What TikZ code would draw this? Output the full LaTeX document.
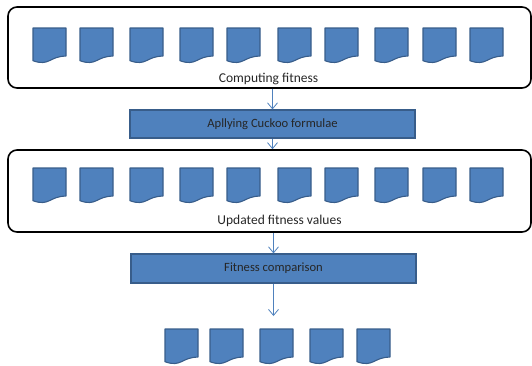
\documentclass[tikz,border=0pt]{standalone}
\usepackage{fontspec}
\setmainfont{Carlito}
\usetikzlibrary{arrows.meta}
\definecolor{docblue}{HTML}{4F81BD}
\definecolor{docedge}{HTML}{385D8A}
\tikzset{
  bigbox/.style={draw=black, line width=1.6pt, rounded corners=9pt, inner sep=0pt},
  procbox/.style={draw=docedge, line width=1.2pt, fill=docblue, inner sep=0pt, text=black!85, font=\fontsize{12.6}{14}\selectfont},
  boxlabel/.style={text=black!85, font=\fontsize{13.5}{15}\selectfont},
  flow/.style={draw=docblue, line width=0.8pt, -{Straight Barb[length=6pt,width=10pt]}},
  sheet/.style={draw=docedge, line width=1.1pt, fill=docblue, line join=round}
}
% one document sheet: left x, top y
\newcommand{\docsheet}[2]{%
  \draw[sheet] (#1,#2) -- ({#1+33},#2) -- ({#1+33},{#2+28.1})
    .. controls ({#1+16.5},{#2+28.1}) and ({#1+16.5},{#2+38.7}) .. (#1,{#2+32.7}) -- cycle;}
\begin{document}
\begin{tikzpicture}[x=1pt, y=-1pt]
        \useasboundingbox (0,0) rectangle (532,365);
        \node[bigbox, minimum width=523, minimum height=81] (topbox) at (269.5,47.5) {};
        \node[procbox, minimum width=285, minimum height=28] (apply) at (272.5,124) {Apllying Cuckoo formulae};
        \node[bigbox, minimum width=523, minimum height=82] (midbox) at (269.5,191) {};
        \node[procbox, minimum width=285, minimum height=29] (compare) at (273.5,268.5) {Fitness comparison};
        \coordinate (result) at (273.5,316);
        \node[boxlabel] (toplabel) at (268.5,79) {Computing fitness};
        \node[boxlabel] (midlabel) at (279.5,221) {Updated fitness values};
        % sheets
        \foreach \x in {33,80,130,180,227,278,325,375,423,470} {
          \docsheet{\x}{28}
          \docsheet{\x}{168}
        }
        \foreach \x in {165,210,260,310,357} {
          \docsheet{\x}{329}
        }
        % flow
        \draw[flow] (apply.north |- topbox.south) -- (apply.north);
        \draw[flow] (apply.south) -- (apply.south |- midbox.north);
        \draw[flow] (compare.north |- midbox.south) -- (compare.north);
        \draw[flow] (compare.south) -- (result);
      \end{tikzpicture}
\end{document}
